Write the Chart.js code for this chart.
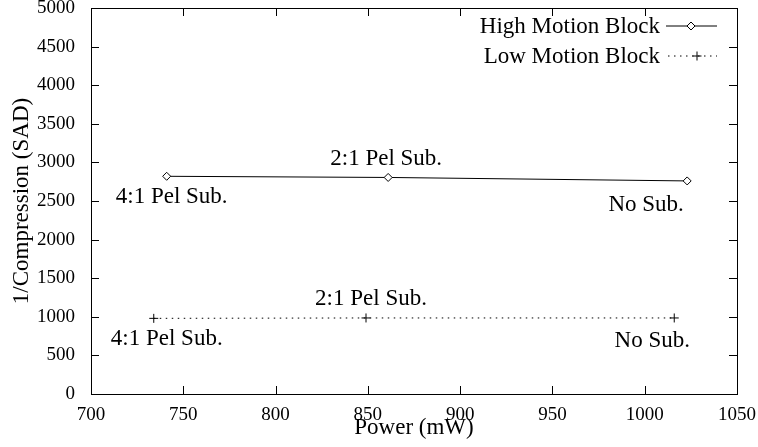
<!DOCTYPE html>
<html>
<head>
<meta charset="utf-8">
<script src="https://cdn.jsdelivr.net/npm/chart.js@4"></script>
<style>
  body { margin: 0; background: #fff; }
  #wrap { width: 758px; height: 447px; }
</style>
</head>
<body>
<div id="wrap"><canvas id="chart" width="758" height="447"></canvas></div>
<script>
const powerHigh = [741, 861, 1023];
const sadHigh = [2820, 2805, 2760];
const powerLow = [734, 849, 1016];
const sadLow = [980, 985, 985];
const pointNames = ["4:1 Pel Sub.", "2:1 Pel Sub.", "No Sub."];
const seriesNames = ["High Motion Block", "Low Motion Block"];
const xTicks = [700, 750, 800, 850, 900, 950, 1000, 1050];
const yTicks = [0, 500, 1000, 1500, 2000, 2500, 3000, 3500, 4000, 4500, 5000];

const SERIF = "'Liberation Serif', 'Times New Roman', serif";
const FONT = "23px " + SERIF;
const LOW_DASH = [1.5, 4.5];

// label offsets (px) from each point, per series
const highOffsets = [[5, 21], [-2, -19], [-41, 24]];
const lowOffsets = [[13, 21], [5, -19], [-22, 23]];

const framePlugin = {
  id: "frame",
  afterDraw(chart) {
    const ctx = chart.ctx;
    const a = chart.chartArea;
    const xs = chart.scales.x, ys = chart.scales.y;
    ctx.save();
    ctx.strokeStyle = "#000";
    ctx.lineWidth = 1;
    ctx.beginPath();
    // inward ticks on all four sides
    xTicks.forEach((v) => {
      const px = Math.round(xs.getPixelForValue(v)) + 0.5;
      ctx.moveTo(px, a.bottom); ctx.lineTo(px, a.bottom - 8);
      ctx.moveTo(px, a.top); ctx.lineTo(px, a.top + 8);
    });
    yTicks.forEach((v) => {
      const py = Math.round(ys.getPixelForValue(v)) + 0.5;
      ctx.moveTo(a.left, py); ctx.lineTo(a.left + 8, py);
      ctx.moveTo(a.right, py); ctx.lineTo(a.right - 8, py);
    });
    ctx.stroke();
    ctx.strokeRect(Math.round(a.left) + 0.5, Math.round(a.top) + 0.5,
      Math.round(a.right - a.left), Math.round(a.bottom - a.top));

    // point annotations
    ctx.fillStyle = "#000";
    ctx.font = FONT;
    ctx.textAlign = "center";
    ctx.textBaseline = "middle";
    const annotate = (xv, yv, offs) => {
      xv.forEach((x, i) => {
        const px = xs.getPixelForValue(x);
        const py = ys.getPixelForValue(yv[i]);
        ctx.fillText(pointNames[i], px + offs[i][0], py + offs[i][1]);
      });
    };
    annotate(powerHigh, sadHigh, highOffsets);
    annotate(powerLow, sadLow, lowOffsets);

    // legend, top right inside the frame
    const right = a.right - 20;
    const rows = [a.top + 18, a.top + 48];
    ctx.textAlign = "right";
    seriesNames.forEach((name, i) => {
      ctx.fillText(name, right - 57, rows[i] + 1);
    });
    ctx.beginPath();
    ctx.moveTo(right - 51, rows[0]); ctx.lineTo(right, rows[0]);
    ctx.stroke();
    ctx.setLineDash(LOW_DASH);
    ctx.beginPath();
    ctx.moveTo(right - 49, rows[1]); ctx.lineTo(right, rows[1]);
    ctx.stroke();
    ctx.setLineDash([]);
    Chart.helpers.drawPoint(ctx, { pointStyle: "rectRot", radius: 4, borderWidth: 1 }, right - 26, rows[0]);
    ctx.fillStyle = "#fff";
    ctx.fill();
    ctx.stroke();
    Chart.helpers.drawPoint(ctx, { pointStyle: "cross", radius: 4.5, borderWidth: 1 }, right - 20, rows[1]);
    ctx.restore();
  },
};

const tickFont = { family: SERIF, size: 19 };
const titleFont = { family: SERIF, size: 23 };

new Chart(document.getElementById("chart"), {
  type: "scatter",
  data: {
    datasets: [
      {
        label: seriesNames[0],
        data: powerHigh.map((x, i) => ({ x: x, y: sadHigh[i] })),
        showLine: true,
        borderColor: "#000",
        borderWidth: 1,
        pointStyle: "rectRot",
        pointRadius: 4,
        pointBackgroundColor: "#fff",
        pointBorderColor: "#000",
        pointBorderWidth: 1,
      },
      {
        label: seriesNames[1],
        data: powerLow.map((x, i) => ({ x: x, y: sadLow[i] })),
        showLine: true,
        borderColor: "#000",
        borderWidth: 1,
        borderDash: LOW_DASH,
        pointStyle: "cross",
        pointRadius: 4.5,
        pointBorderColor: "#000",
        pointBorderWidth: 1,
      },
    ],
  },
  options: {
    responsive: false,
    animation: false,
    layout: { padding: { left: 0, right: 21, top: 8, bottom: 0 } },
    plugins: {
      legend: { display: false },
      tooltip: { enabled: false },
    },
    scales: {
      x: {
        type: "linear",
        min: 700,
        max: 1050,
        afterBuildTicks: (s) => { s.ticks = xTicks.map((v) => ({ value: v })); },
        afterFit: (s) => { s.height = 53; s.paddingLeft = 0; s.paddingRight = 0; },
        grid: { display: false },
        border: { display: false },
        ticks: { color: "#000", font: tickFont, padding: 2, maxRotation: 0, callback: (v) => String(v) },
        title: { display: true, text: "Power (mW)", color: "#000", font: titleFont, padding: { top: 0, bottom: 5 } },
      },
      y: {
        min: 0,
        max: 5000,
        afterBuildTicks: (s) => { s.ticks = yTicks.map((v) => ({ value: v })); },
        afterFit: (s) => { s.width = 91; s.paddingTop = 0; s.paddingBottom = 0; },
        grid: { display: false },
        border: { display: false },
        ticks: { color: "#000", font: tickFont, padding: 8, callback: (v) => String(v) },
        title: { display: true, text: "1/Compression (SAD)", color: "#000", font: titleFont, padding: { top: 8, bottom: 0 } },
      },
    },
  },
  plugins: [framePlugin],
});
</script>
</body>
</html>
